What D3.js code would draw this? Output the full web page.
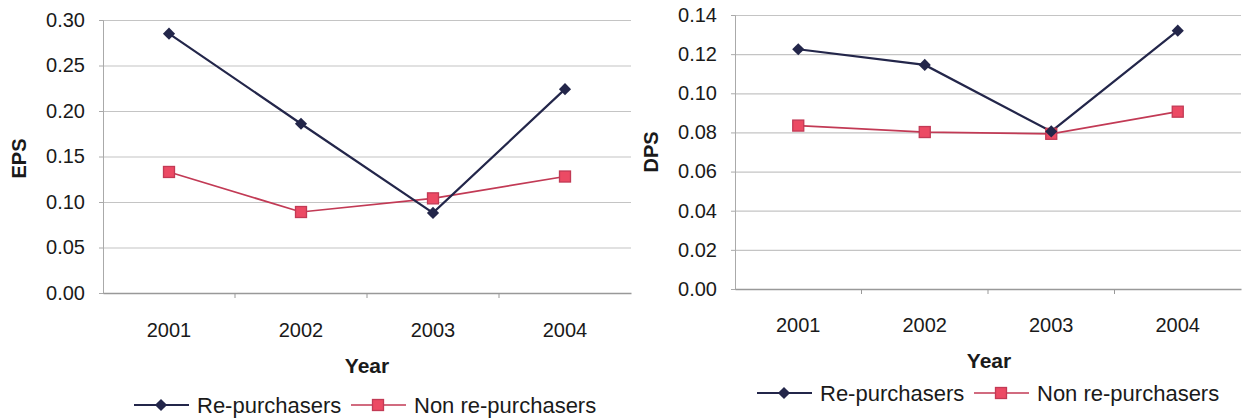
<!DOCTYPE html>
<html lang="en">
<head>
  <meta charset="UTF-8">
  <title>EPS and DPS</title>
  <script src="https://d3js.org/d3.v7.min.js"></script>
  <style>
    body { margin: 0; background: #fff; }
    svg { display: block; font-family: "Liberation Sans", Arial, sans-serif; }
    .tick text { fill: #1a1a1a; }
  </style>
</head>
<body>
  <svg id="chart" width="1243" height="419"></svg>
  <script>
    // data
    const years = ['2001', '2002', '2003', '2004']
    const epsRe = [0.285, 0.186, 0.088, 0.224]
    const epsNon = [0.133, 0.089, 0.104, 0.128]
    const dpsRe = [0.1225, 0.1145, 0.0805, 0.132]
    const dpsNon = [0.0835, 0.0802, 0.0793, 0.0906]
    const epsTicks = [0, 0.05, 0.10, 0.15, 0.20, 0.25, 0.30]
    const dpsTicks = [0, 0.02, 0.04, 0.06, 0.08, 0.10, 0.12, 0.14]
    const seriesNames = ['Re-purchasers', 'Non re-purchasers']

    const navy = '#23264a', red = '#c23a55', redFill = '#ec4a64'

    const svg = d3.select('#chart')

    //one panel
    function panel(opt) {
      const g = svg.append('g').attr('transform', `translate(${opt.left}, ${opt.top})`)
      const w = opt.w, h = opt.h

      const x = d3.scaleBand().domain(years).range([0, w])
      const y = d3.scaleLinear().domain([0, opt.max]).range([h, 0])

      // gridlines
      g.append('g')
        .call(d3.axisLeft(y).tickValues(opt.ticks).tickSize(-w).tickFormat(''))
        .call(s => s.select('.domain').remove())
        .selectAll('line').attr('stroke', '#c4c4c4').attr('stroke-width', 1.2)

      // y axis
      const ya = g.append('g')
        .call(d3.axisLeft(y).tickValues(opt.ticks).tickSize(4).tickPadding(14).tickFormat(d3.format('.2f')))
      ya.select('.domain').attr('stroke', '#aaa')
      ya.selectAll('line').attr('stroke', '#aaa')
      ya.selectAll('text').style('font-size', '20px')

      // x axis
      const xa = g.append('g')
        .attr('transform', `translate(0, ${h})`)
        .call(d3.axisBottom(x).tickSize(0).tickPadding(opt.xPad))
      xa.select('.domain').attr('stroke', '#999').attr('stroke-width', 1.3)
      xa.selectAll('text').style('font-size', '20px')

      // ticks between categories
      g.append('g').selectAll('line')
        .data(years.slice(1))
        .join('line')
        .attr('x1', d => x(d)).attr('x2', d => x(d))
        .attr('y1', h).attr('y2', h + 5)
        .attr('stroke', '#999')

      const cx = (d, i) => x(years[i]) + x.bandwidth() / 2
      const line = d3.line().x((d, i) => cx(d, i)).y(d => y(d))

      g.append('path').datum(opt.non)
        .attr('fill', 'none').attr('stroke', red).attr('stroke-width', 1.7)
        .attr('d', line)
      g.append('path').datum(opt.re)
        .attr('fill', 'none').attr('stroke', navy).attr('stroke-width', 2.2)
        .attr('d', line)

      g.selectAll('.sq').data(opt.non).join('rect')
        .attr('class', 'sq')
        .attr('x', (d, i) => cx(d, i) - 5.5).attr('y', d => y(d) - 5.5)
        .attr('width', 11).attr('height', 11)
        .attr('fill', redFill).attr('stroke', red).attr('stroke-width', 1.3)

      g.selectAll('.dm').data(opt.re).join('path')
        .attr('class', 'dm')
        .attr('transform', (d, i) => `translate(${cx(d, i)}, ${y(d)}) rotate(45)`)
        .attr('d', d3.symbol(d3.symbolSquare, 74))
        .attr('fill', navy)

      // axis titles
      g.append('text')
        .attr('transform', `translate(${opt.yTitleX}, ${h / 2 + opt.yTitleDy}) rotate(-90)`)
        .attr('text-anchor', 'middle')
        .attr('dy', '0.35em')
        .style('font-size', '20px').style('font-weight', 'bold').attr('fill', '#1a1a1a')
        .text(opt.yTitle)

      g.append('text')
        .attr('x', w / 2 + opt.xTitleDx).attr('y', opt.xTitleY)
        .attr('text-anchor', 'middle').attr('dy', '0.35em')
        .style('font-size', '21px').style('font-weight', 'bold').attr('fill', '#1a1a1a')
        .text('Year')

      // legend
      const lg = svg.append('g').attr('transform', `translate(${opt.legX}, ${opt.legY})`)
      const items = lg.selectAll('g').data(seriesNames).join('g')
        .attr('transform', (d, i) => `translate(${i * 217}, 0)`)
      items.append('line')
        .attr('x1', 0).attr('x2', 55)
        .attr('stroke', (d, i) => i ? red : navy)
        .attr('stroke-width', (d, i) => i ? 1.7 : 2.2)
      items.filter((d, i) => i === 0).append('path')
        .attr('transform', 'translate(27, 0) rotate(45)')
        .attr('d', d3.symbol(d3.symbolSquare, 74))
        .attr('fill', navy)
      items.filter((d, i) => i === 1).append('rect')
        .attr('x', 21.5).attr('y', -5.5).attr('width', 11).attr('height', 11)
        .attr('fill', redFill).attr('stroke', red).attr('stroke-width', 1.3)
      items.append('text')
        .attr('x', 63).attr('dy', '0.35em')
        .style('font-size', '22px').attr('fill', '#1a1a1a')
        .text(d => d)
    }

    panel({
      left: 103, top: 20, w: 528, h: 273, max: 0.30, ticks: epsTicks,
      re: epsRe, non: epsNon, yTitle: 'EPS', yTitleX: -84, yTitleDy: 2,
      xPad: 30, xTitleDx: 0, xTitleY: 346, legX: 134, legY: 405
    })

    panel({
      left: 735, top: 15, w: 506, h: 274, max: 0.14, ticks: dpsTicks,
      re: dpsRe, non: dpsNon, yTitle: 'DPS', yTitleX: -84, yTitleDy: 0,
      xPad: 29, xTitleDx: 1, xTitleY: 346, legX: 757, legY: 393
    })
  </script>
</body>
</html>
